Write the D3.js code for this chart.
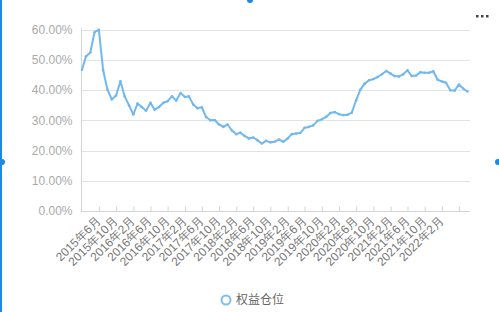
<!DOCTYPE html>
<html>
<head>
<meta charset="utf-8">
<script src="https://cdn.jsdelivr.net/npm/d3@7"></script>
<style>
  html, body { margin: 0; padding: 0; background: #fff; }
  svg { display: block; font-family: "Liberation Sans", "Noto Sans CJK SC", sans-serif; }
</style>
</head>
<body>
<div id="container"></div>
<script>
// Chart size and plot box
const width = 499;
const height = 312;
const marginLeft = 82;
const plotRight = 467.5;
const plotTop = 29.5;
const plotBottom = 211;

// Months of the series (one point per month)
const months = [
  "2015-02","2015-03","2015-04","2015-05","2015-06","2015-07","2015-08","2015-09","2015-10","2015-11","2015-12",
  "2016-01","2016-02","2016-03","2016-04","2016-05","2016-06","2016-07","2016-08","2016-09","2016-10","2016-11","2016-12",
  "2017-01","2017-02","2017-03","2017-04","2017-05","2017-06","2017-07","2017-08","2017-09","2017-10","2017-11","2017-12",
  "2018-01","2018-02","2018-03","2018-04","2018-05","2018-06","2018-07","2018-08","2018-09","2018-10","2018-11","2018-12",
  "2019-01","2019-02","2019-03","2019-04","2019-05","2019-06","2019-07","2019-08","2019-09","2019-10","2019-11","2019-12",
  "2020-01","2020-02","2020-03","2020-04","2020-05","2020-06","2020-07","2020-08","2020-09","2020-10","2020-11","2020-12",
  "2021-01","2021-02","2021-03","2021-04","2021-05","2021-06","2021-07","2021-08","2021-09","2021-10","2021-11","2021-12",
  "2022-01","2022-02","2022-03","2022-04","2022-05","2022-06","2022-07","2022-08"
];

// 权益仓位 (%)
const equityPosition = [
  46.7, 51.1, 52.4, 59.1, 59.9, 46.5, 40.1, 36.9, 38.2, 42.9, 37.9,
  34.9, 31.9, 35.5, 34.4, 33.1, 35.8, 33.5, 34.4, 35.8, 36.3, 37.9, 36.5,
  39.0, 37.7, 37.9, 35.2, 34.0, 34.3, 31.1, 30.0, 30.1, 28.6, 27.8, 28.6,
  26.6, 25.4, 25.9, 24.8, 24.0, 24.3, 23.4, 22.3, 23.2, 22.7, 22.9, 23.6,
  22.9, 24.0, 25.4, 25.6, 25.8, 27.5, 27.8, 28.3, 29.8, 30.3, 31.1, 32.4,
  32.7, 32.0, 31.7, 31.8, 32.5, 36.6, 40.1, 42.1, 43.2, 43.6, 44.3, 45.2,
  46.3, 45.4, 44.6, 44.5, 45.2, 46.5, 44.6, 44.8, 45.9, 45.7, 45.7, 46.2,
  43.4, 42.8, 42.4, 39.9, 39.8, 41.8, 40.5, 39.5
];

// x ticks every 4 months; the last tick has no label
const xTicks = [
  "2015-06","2015-10","2016-02","2016-06","2016-10","2017-02","2017-06","2017-10",
  "2018-02","2018-06","2018-10","2019-02","2019-06","2019-10","2020-02","2020-06",
  "2020-10","2021-02","2021-06","2021-10","2022-02","2022-06"
];
const xTickLabels = [
  "2015年6月","2015年10月","2016年2月","2016年6月","2016年10月","2017年2月","2017年6月","2017年10月",
  "2018年2月","2018年6月","2018年10月","2019年2月","2019年6月","2019年10月","2020年2月","2020年6月",
  "2020年10月","2021年2月","2021年6月","2021年10月","2022年2月",""
];
const yTicks = [0, 10, 20, 30, 40, 50, 60];
const seriesName = "权益仓位";

const lineColor = "#72b8f0";
const parseMonth = d3.timeParse("%Y-%m");

const data = months.map((m, i) => ({ date: parseMonth(m), value: equityPosition[i] }));

const x = d3.scaleTime()
    .domain(d3.extent(data, d => d.date))
    .range([marginLeft, plotRight]);

const y = d3.scaleLinear()
    .domain([0, 60])
    .range([plotBottom, plotTop]);

const svg = d3.select("#container").append("svg")
    .attr("width", width)
    .attr("height", height)
    .attr("viewBox", [0, 0, width, height]);

// horizontal grid lines
svg.append("g")
    .selectAll("line")
    .data(yTicks.filter(d => d > 0))
    .join("line")
    .attr("x1", marginLeft)
    .attr("x2", 470)
    .attr("y1", d => Math.round(y(d)) + 0.5)
    .attr("y2", d => Math.round(y(d)) + 0.5)
    .attr("stroke", "#e3e3e3");

// y axis
svg.append("g")
    .attr("transform", `translate(${marginLeft - 0.5},0)`)
    .call(d3.axisLeft(y).tickValues(yTicks).tickSize(0).tickPadding(9)
        .tickFormat(d => d.toFixed(2) + "%"))
    .call(g => g.select(".domain").attr("stroke", "#d4d4d4").attr("d", `M0,${plotTop - 1}V${plotBottom}`))
    .call(g => g.selectAll("text")
        .attr("fill", "#aaa")
        .style("font-size", "12px")
        .style("font-family", "Liberation Sans, sans-serif"));

// x axis with inside ticks and rotated labels
svg.append("g")
    .attr("transform", `translate(0,${plotBottom + 0.5})`)
    .call(d3.axisBottom(x)
        .tickValues(xTicks.map(parseMonth))
        .tickSizeInner(-5)
        .tickSizeOuter(0)
        .tickFormat((d, i) => xTickLabels[i]))
    .call(g => g.select(".domain").attr("stroke", "#d4d4d4").attr("d", `M${marginLeft - 1},0H470`))
    .call(g => g.selectAll(".tick line").attr("stroke", "#d4d4d4"))
    .call(g => g.selectAll(".tick text")
        .attr("x", 0)
        .attr("y", 0)
        .attr("dy", "0.35em")
        .attr("text-anchor", "end")
        .attr("transform", "translate(-1,7) rotate(-45)")
        .attr("fill", "#777")
        .style("font-size", "12px"));

// the line
const line = d3.line()
    .x(d => x(d.date))
    .y(d => y(d.value));

svg.append("path")
    .datum(data)
    .attr("fill", "none")
    .attr("stroke", lineColor)
    .attr("stroke-width", 2)
    .attr("stroke-linejoin", "round")
    .attr("d", line);

svg.append("g")
    .selectAll("circle")
    .data(data)
    .join("circle")
    .attr("cx", d => x(d.date))
    .attr("cy", d => y(d.value))
    .attr("r", 1.3)
    .attr("fill", lineColor);

// legend
const legend = svg.append("g").attr("transform", "translate(226,300)");
legend.append("circle")
    .attr("r", 4.5)
    .attr("fill", "#fff")
    .attr("stroke", "#7cc0f2")
    .attr("stroke-width", 2);
legend.append("text")
    .attr("x", 10)
    .attr("dy", "0.35em")
    .attr("fill", "#666")
    .style("font-size", "12px")
    .text(seriesName);

// "more" dots top right
svg.append("g")
    .selectAll("rect")
    .data([0, 1, 2])
    .join("rect")
    .attr("x", d => 476 + d * 5)
    .attr("y", 15)
    .attr("width", 2.5)
    .attr("height", 2.5)
    .attr("fill", "#444");

// selection frame marks of the widget
svg.append("line")
    .attr("x1", 1).attr("x2", 1)
    .attr("y1", 0).attr("y2", height)
    .attr("stroke", "#1e88e5")
    .attr("stroke-width", 2);
svg.append("g")
    .selectAll("circle")
    .data([[2, 162], [498, 162], [250, 0]])
    .join("circle")
    .attr("cx", d => d[0])
    .attr("cy", d => d[1])
    .attr("r", 3)
    .attr("fill", "#1e88e5");
</script>
</body>
</html>
